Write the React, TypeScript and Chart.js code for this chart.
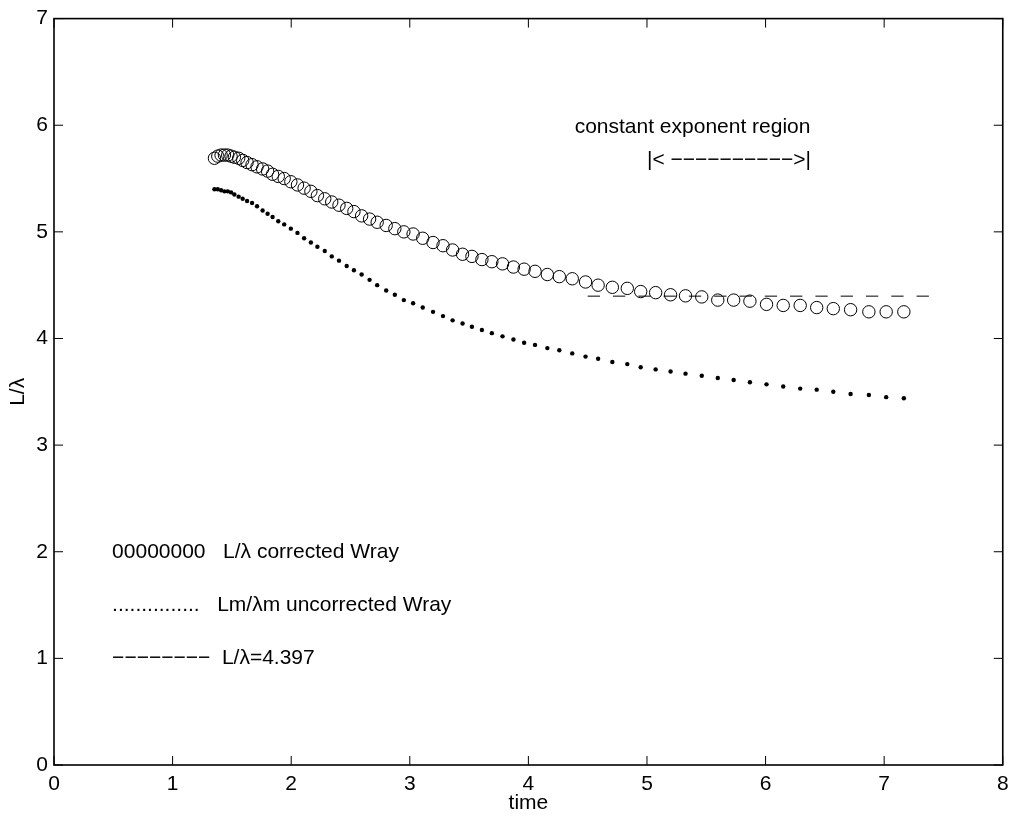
import React, { useEffect, useRef } from "react";
import { Chart, registerables } from "chart.js";

Chart.register(...registerables);

// ---- data ----
const TIME = [
  1.353, 1.381, 1.409, 1.437, 1.465, 1.493, 1.521, 1.557, 1.591, 1.628,
  1.670, 1.712, 1.759, 1.801, 1.843, 1.891, 1.941, 1.997, 2.053, 2.109,
  2.166, 2.221, 2.283, 2.342, 2.403, 2.468, 2.529, 2.594, 2.661, 2.725,
  2.801, 2.874, 2.950, 3.028, 3.109, 3.196, 3.280, 3.361, 3.445, 3.524,
  3.608, 3.692, 3.782, 3.874, 3.964, 4.056, 4.160, 4.261, 4.370, 4.482,
  4.588, 4.708, 4.834, 4.947, 5.073, 5.199, 5.325, 5.462, 5.597, 5.731,
  5.868, 6.008, 6.149, 6.292, 6.431, 6.571, 6.717, 6.871, 7.017, 7.166,
];

const CORRECTED = [
  5.69, 5.71, 5.72, 5.72, 5.72, 5.71, 5.70, 5.69, 5.67, 5.65,
  5.63, 5.61, 5.59, 5.57, 5.54, 5.52, 5.50, 5.47, 5.44, 5.41,
  5.38, 5.34, 5.31, 5.28, 5.25, 5.22, 5.19, 5.15, 5.12, 5.09,
  5.06, 5.03, 5.00, 4.98, 4.94, 4.90, 4.87, 4.83, 4.79, 4.77,
  4.74, 4.72, 4.70, 4.67, 4.65, 4.63, 4.60, 4.58, 4.56, 4.53,
  4.50, 4.48, 4.47, 4.44, 4.43, 4.41, 4.40, 4.39, 4.36, 4.36,
  4.35, 4.32, 4.31, 4.31, 4.29, 4.28, 4.27, 4.25, 4.25, 4.25,
];

const UNCORRECTED = [
  5.40, 5.40, 5.39, 5.38, 5.38, 5.37, 5.35, 5.33, 5.31, 5.29,
  5.27, 5.24, 5.20, 5.17, 5.14, 5.10, 5.07, 5.03, 4.99, 4.94,
  4.90, 4.86, 4.82, 4.77, 4.73, 4.68, 4.64, 4.60, 4.55, 4.50,
  4.45, 4.41, 4.36, 4.33, 4.29, 4.25, 4.21, 4.17, 4.14, 4.11,
  4.08, 4.05, 4.02, 3.99, 3.96, 3.94, 3.91, 3.89, 3.86, 3.83,
  3.81, 3.78, 3.76, 3.73, 3.71, 3.69, 3.67, 3.65, 3.63, 3.61,
  3.59, 3.57, 3.55, 3.53, 3.52, 3.50, 3.48, 3.47, 3.45, 3.44,
];

const FIT_VALUE = 4.397;
const FIT_X_RANGE = [4.5, 7.4];

const X_TICKS = [0, 1, 2, 3, 4, 5, 6, 7, 8];
const Y_TICKS = [0, 1, 2, 3, 4, 5, 6, 7];

const X_TITLE = "time";
const Y_TITLE = "L/\u03bb";

const NOTE_TEXTS = [
  "constant exponent region",
  "|< \u2212\u2212\u2212\u2212\u2212\u2212\u2212\u2212\u2212\u2212>|",
  "00000000   L/\u03bb corrected Wray",
  "...............   Lm/\u03bbm uncorrected Wray",
  "\u2212\u2212\u2212\u2212\u2212\u2212\u2212\u2212  L/\u03bb=4.397",
];
const NOTE_X = [4.39, 5.0, 0.49, 0.49, 0.49];
const NOTE_Y = [5.98, 5.67, 2, 1.5, 1];

const FONT = "'Liberation Sans', Arial, Helvetica, sans-serif";
const FONT_SIZE = 21;

const framePlugin = {
  id: "frame",
  afterDraw(chart: any) {
    const { ctx, chartArea } = chart;
    const xs = chart.scales.x;
    const ys = chart.scales.y;
    const { left, right, top, bottom } = chartArea;
    ctx.save();
    // box
    ctx.strokeStyle = "#000";
    ctx.lineWidth = 1.6;
    ctx.strokeRect(left, top, right - left, bottom - top);
    // inward ticks on all four sides
    ctx.lineWidth = 1;
    const tl = 9;
    ctx.beginPath();
    X_TICKS.forEach((v) => {
      const px = xs.getPixelForValue(v);
      ctx.moveTo(px, bottom);
      ctx.lineTo(px, bottom - tl);
      ctx.moveTo(px, top);
      ctx.lineTo(px, top + tl);
    });
    Y_TICKS.forEach((v) => {
      const py = ys.getPixelForValue(v);
      ctx.moveTo(left, py);
      ctx.lineTo(left + tl, py);
      ctx.moveTo(right, py);
      ctx.lineTo(right - tl, py);
    });
    ctx.stroke();
    // text annotations
    ctx.fillStyle = "#000";
    ctx.font = `${FONT_SIZE}px ${FONT}`;
    ctx.textAlign = "left";
    ctx.textBaseline = "middle";
    NOTE_TEXTS.forEach((t, i) => {
      ctx.fillText(t, xs.getPixelForValue(NOTE_X[i]), ys.getPixelForValue(NOTE_Y[i]));
    });
    ctx.restore();
  },
};

export default function App() {
  const ref = useRef<HTMLCanvasElement>(null);

  useEffect(() => {
    const canvas = ref.current;
    if (!canvas) return;
    const chart = new Chart(canvas, {
      type: "scatter",
      data: {
        datasets: [
          {
            label: "L/\u03bb corrected Wray",
            data: TIME.map((t, i) => ({ x: t, y: CORRECTED[i] })),
            showLine: false,
            pointStyle: "circle",
            pointRadius: 6.2,
            pointBorderWidth: 1,
            pointBorderColor: "#000",
            pointBackgroundColor: "rgba(0,0,0,0)",
          },
          {
            label: "Lm/\u03bbm uncorrected Wray",
            data: TIME.map((t, i) => ({ x: t, y: UNCORRECTED[i] })),
            showLine: false,
            pointStyle: "circle",
            pointRadius: 2.2,
            pointBorderWidth: 0,
            pointBorderColor: "#000",
            pointBackgroundColor: "#000",
          },
          {
            label: "L/\u03bb=4.397",
            data: FIT_X_RANGE.map((x) => ({ x, y: FIT_VALUE })),
            showLine: true,
            borderColor: "#000",
            borderWidth: 1,
            borderDash: [12.3, 13],
            pointRadius: 0,
            fill: false,
          },
        ],
      } as any,
      options: {
        responsive: false,
        animation: false,
        devicePixelRatio: 1,
        events: [],
        layout: { padding: { left: 0, top: 14, right: 9, bottom: 0 } },
        plugins: {
          legend: { display: false },
          tooltip: { enabled: false },
        },
        scales: {
          x: {
            type: "linear",
            position: "bottom",
            min: 0,
            max: 8,
            grid: { display: false, drawTicks: false },
            border: { display: false },
            afterBuildTicks: (s: any) => {
              s.ticks = X_TICKS.map((v) => ({ value: v }));
            },
            ticks: {
              color: "#000",
              padding: 6.4,
              maxRotation: 0,
              autoSkip: false,
              font: { family: FONT, size: FONT_SIZE },
              callback: (v: any) => String(v),
            },
            title: {
              display: true,
              text: X_TITLE,
              color: "#000",
              font: { family: FONT, size: FONT_SIZE },
              padding: { top: 0, bottom: 7.4 },
            },
            afterFit: (s: any) => {
              s.height = 58;
            },
          },
          y: {
            type: "linear",
            position: "left",
            min: 0,
            max: 7,
            grid: { display: false, drawTicks: false },
            border: { display: false },
            afterBuildTicks: (s: any) => {
              s.ticks = Y_TICKS.map((v) => ({ value: v }));
            },
            ticks: {
              color: "#000",
              padding: 6,
              autoSkip: false,
              font: { family: FONT, size: FONT_SIZE },
              callback: (v: any) => String(v),
            },
            title: {
              display: true,
              text: Y_TITLE,
              color: "#000",
              font: { family: FONT, size: FONT_SIZE },
              padding: { top: 5.4, bottom: 0 },
            },
            afterFit: (s: any) => {
              s.width = 54;
            },
          },
        },
      } as any,
      plugins: [framePlugin],
    });
    return () => chart.destroy();
  }, []);

  return (
    <canvas
      ref={ref}
      width={1015}
      height={823}
      style={{ position: "absolute", left: 0, top: 0, display: "block", background: "#fff" }}
    />
  );
}
